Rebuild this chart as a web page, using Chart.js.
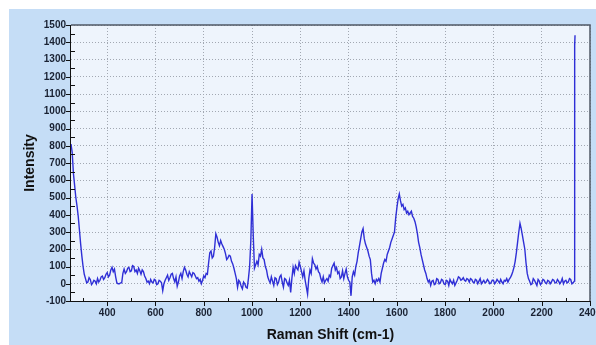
<!DOCTYPE html>
<html>
<head>
<meta charset="utf-8">
<title>Raman spectrum</title>
<script src="https://cdn.jsdelivr.net/npm/chart.js@4.4.0/dist/chart.umd.min.js"></script>
<style>
  html, body { margin: 0; padding: 0; background: #fff; }
  #wrap { width: 596px; height: 345px; }
</style>
</head>
<body>
<div id="wrap"><canvas id="ramanChart" width="596" height="345"></canvas></div>
<script>
const ramanShift = [
  250, 255, 260, 265, 270, 275, 280, 285, 290, 295, 300, 305, 310, 315, 320, 325, 330, 335, 340, 345,
  350, 355, 360, 365, 370, 375, 380, 385, 390, 395, 400, 405, 410, 415, 420, 425, 430, 435, 440, 445,
  450, 455, 460, 465, 470, 475, 480, 485, 490, 495, 500, 505, 510, 515, 520, 525, 530, 535, 540, 545,
  550, 555, 560, 565, 570, 575, 580, 585, 590, 595, 600, 605, 610, 615, 620, 625, 630, 635, 640, 645,
  650, 655, 660, 665, 670, 675, 680, 685, 690, 695, 700, 705, 710, 715, 720, 725, 730, 735, 740, 745,
  750, 755, 760, 765, 770, 775, 780, 785, 790, 795, 800, 805, 810, 815, 820, 825, 830, 835, 840, 845,
  850, 855, 860, 865, 870, 875, 880, 885, 890, 895, 900, 905, 910, 915, 920, 925, 930, 935, 940, 945,
  950, 955, 960, 965, 970, 975, 980, 985, 990, 995, 1000, 1005, 1010, 1015,
  1020, 1025, 1030, 1035, 1040, 1045, 1050, 1055, 1060, 1065, 1070, 1075, 1080, 1085, 1090, 1095, 1100, 1105,
  1110, 1115, 1120, 1125, 1130, 1135, 1140, 1145, 1150, 1155, 1160, 1165, 1170, 1175, 1180, 1185, 1190, 1195, 1200, 1205,
  1210, 1215, 1220, 1225, 1230, 1235, 1240, 1245, 1250, 1255, 1260, 1265, 1270, 1275, 1280, 1285, 1290, 1295, 1300, 1305,
  1310, 1315, 1320, 1325, 1330, 1335, 1340, 1345, 1350, 1355, 1360, 1365, 1370, 1375, 1380, 1385, 1390, 1395, 1400, 1405,
  1410, 1415, 1420, 1425, 1430, 1435, 1440, 1445, 1450, 1455, 1460, 1465, 1470, 1475, 1480, 1485, 1490, 1495, 1500, 1505,
  1510, 1515, 1520, 1525, 1530, 1535, 1540, 1545, 1550, 1555, 1560, 1565, 1570, 1575, 1580, 1585, 1590, 1595, 1600, 1605,
  1610, 1615, 1620, 1625, 1630, 1635, 1640, 1645, 1650, 1655, 1660, 1665, 1670, 1675, 1680, 1685, 1690, 1695, 1700, 1705,
  1710, 1715, 1720, 1725, 1730, 1735, 1740, 1745, 1750, 1755, 1760, 1765, 1770, 1775, 1780, 1785, 1790, 1795, 1800, 1805,
  1810, 1815, 1820, 1825, 1830, 1835, 1840, 1845, 1850, 1855, 1860, 1865, 1870, 1875, 1880, 1885, 1890, 1895, 1900, 1905,
  1910, 1915, 1920, 1925, 1930, 1935, 1940, 1945, 1950, 1955, 1960, 1965, 1970, 1975, 1980, 1985, 1990, 1995, 2000, 2005,
  2010, 2015, 2020, 2025, 2030, 2035, 2040, 2045, 2050, 2055, 2060, 2065, 2070, 2075, 2080, 2085, 2090, 2095, 2100, 2105,
  2110, 2115, 2120, 2125, 2130, 2135, 2140, 2145, 2150, 2155, 2160, 2165, 2170, 2175, 2180, 2185, 2190, 2195, 2200, 2205,
  2210, 2215, 2220, 2225, 2230, 2235, 2240, 2245, 2250, 2255, 2260, 2265, 2270, 2275, 2280, 2285, 2290, 2295, 2300, 2305,
  2310, 2315, 2320, 2325, 2330, 2335, 2336, 2337, 2338
];
const intensity = [
  810, 760, 640, 570, 500, 450, 390, 310, 230, 160, 100, 55, 30, 5, 10, 35, 25, -5, 5, 20,
  15, 0, 30, 10, 20, 40, 45, 25, 35, 55, 65, 40, 50, 80, 95, 70, 85, 40, 5, 0,
  0, 5, 5, 60, 85, 60, 70, 90, 95, 70, 75, 105, 100, 70, 80, 60, 90, 75, 55, 80,
  70, 45, 30, 10, 15, 0, 25, 10, 5, 25, 20, -5, 0, 20, 15, 5, -40, 0, 20, 35,
  50, 20, 35, 55, 60, 30, 10, 40, -15, 10, 45, 60, 30, 70, 95, 80, 55, 40, 70, 55,
  40, 65, 60, 45, 30, 35, 15, 25, 0, 20, 45, 35, 60, 55, 120, 180, 190, 150, 160, 210,
  290, 270, 240, 220, 250, 230, 215, 200, 175, 140, 150, 165, 160, 130, 115, 90, 60, 30, -20, 20,
  10, -15, -30, 10, 0, -20, -25, 30, 100, 250, 520, 280, 90, 110,
  130, 110, 170, 160, 200, 150, 140, 100, 80, 40, 20, 5, 40, 15, -10, 35, 30, -5,
  10, 40, 50, 10, -20, 30, 25, 5, -10, 20, -50, 30, 95, 60, 105, 90, 80, 125, 100, 70,
  40, 75, 20, -20, -60, 30, 80, 60, 145, 120, 110, 85, 100, 70, 60, 30, 10, 40, 5, 20,
  30, 15, 50, 40, 90, 105, 120, 80, 95, 60, 70, 30, 40, 75, 30, 60, 85, 40, 20, 10,
  -70, 40, 70, 50, 100, 130, 180, 220, 260, 300, 320, 260, 230, 210, 190, 160, 140, 60, 10, 20,
  0, 25, 15, 30, 10, 60, 90, 120, 140, 130, 170, 190, 210, 240, 260, 280, 300, 380, 440, 490,
  520, 480, 450, 460, 430, 440, 410, 420, 400, 410, 420, 390, 380, 360, 330, 290, 240, 210, 170, 140,
  110, 80, 60, 30, 10, 20, -10, 15, 20, -5, 0, 30, 25, 0, 5, 25, 20, 0, -5, 20,
  15, -10, 25, 10, 0, 20, -10, 5, 20, 40, 35, 20, 25, 35, 20, 15, 30, 25, 10, 30,
  25, 10, 5, 25, 20, 0, 15, 30, 0, 10, 20, 5, 10, 25, 15, 0, 5, 20, 20, 0,
  10, 25, 15, 5, 25, 10, 0, 20, 15, 30, 10, 25, 35, 50, 70, 95, 130, 180, 240, 300,
  350, 320, 280, 240, 200, 120, 60, 30, 15, -5, 0, 30, 20, 5, -10, 25, 15, -5, 5, 25,
  20, 5, 0, 20, 15, 0, 10, 25, 20, 5, 5, 25, 15, 0, 10, 30, 0, 15, 20, 5,
  10, 30, 25, 0, 5, 15, 1400, 1380, 1440
];
const xLabelValues = [400, 600, 800, 1000, 1200, 1400, 1600, 1800, 2000, 2200, 2400];
const yLabelValues = [-100, 0, 100, 200, 300, 400, 500, 600, 700, 800, 900, 1000, 1100, 1200, 1300, 1400, 1500];

const points = ramanShift.map((s, i) => ({ x: s, y: intensity[i] }));

const fontFamily = "Arial, 'Liberation Sans', sans-serif";
const tickFont = { family: fontFamily, size: 10, weight: 'bold' };
const tickColor = '#1a2233';
const gridGray = '#a2a8b2';

// panel and plot backgrounds
const backdrop = {
  id: 'backdrop',
  beforeDraw(chart) {
    const { ctx, chartArea: a } = chart;
    ctx.save();
    ctx.fillStyle = '#ffffff';
    ctx.fillRect(0, 0, chart.width, chart.height);
    ctx.fillStyle = '#c5ddf6';
    ctx.fillRect(9, 9, chart.width - 9, chart.height - 9);
    ctx.fillStyle = '#eef4fc';
    ctx.fillRect(a.left, a.top, a.right - a.left, a.bottom - a.top);
    ctx.restore();
  }
};

// axis lines, frame, tick marks and the clipped last x label
const frame = {
  id: 'frame',
  afterDraw(chart) {
    const { ctx, chartArea: a } = chart;
    const xs = chart.scales.x;
    const ys = chart.scales.y;
    ctx.save();
    ctx.lineWidth = 1.5;
    ctx.strokeStyle = '#505866';
    ctx.beginPath();
    ctx.moveTo(a.left, a.top);
    ctx.lineTo(a.right, a.top);
    ctx.lineTo(a.right, a.bottom);
    ctx.stroke();

    ctx.lineWidth = 1;
    ctx.strokeStyle = '#111111';
    ctx.beginPath();
    ctx.moveTo(a.left - 0.5, a.top);
    ctx.lineTo(a.left - 0.5, a.bottom + 0.5);
    ctx.lineTo(a.right, a.bottom + 0.5);
    yLabelValues.forEach(v => {
      const py = Math.round(ys.getPixelForValue(v)) + 0.5;
      ctx.moveTo(a.left - 5, py);
      ctx.lineTo(a.left, py);
    });
    for (let v = -50; v < 1500; v += 100) {
      const py = Math.round(ys.getPixelForValue(v)) + 0.5;
      ctx.moveTo(a.left, py);
      ctx.lineTo(a.left + 4, py);
    }
    xLabelValues.forEach(v => {
      const px = Math.round(xs.getPixelForValue(v)) + 0.5;
      ctx.moveTo(px, a.bottom);
      ctx.lineTo(px, a.bottom + 5);
    });
    for (let v = 300; v < 2400; v += 200) {
      const px = Math.round(xs.getPixelForValue(v)) + 0.5;
      ctx.moveTo(px, a.bottom + 1);
      ctx.lineTo(px, a.bottom - 3);
    }
    ctx.stroke();

    // last label sits on the canvas edge, so it is drawn here and cut off
    const last = xLabelValues[xLabelValues.length - 1];
    ctx.fillStyle = tickColor;
    ctx.font = 'bold 10px ' + fontFamily;
    ctx.textAlign = 'center';
    ctx.textBaseline = 'middle';
    ctx.fillText(String(last), xs.getPixelForValue(last), a.bottom + 12);
    ctx.restore();
  }
};

new Chart(document.getElementById('ramanChart'), {
  type: 'line',
  data: {
    datasets: [{
      data: points,
      borderColor: '#2f2fd6',
      borderWidth: 1.4,
      pointRadius: 0,
      tension: 0,
      fill: false
    }]
  },
  options: {
    responsive: false,
    animation: false,
    events: [],
    layout: { autoPadding: false, padding: { left: 0, top: 25, right: 5, bottom: 0 } },
    plugins: { legend: { display: false }, tooltip: { enabled: false } },
    scales: {
      x: {
        type: 'linear',
        min: 250,
        max: 2400,
        afterFit(scale) { scale.height = 44; },
        afterBuildTicks(scale) { scale.ticks = xLabelValues.map(v => ({ value: v })); },
        ticks: {
          autoSkip: false,
          maxRotation: 0,
          padding: 6,
          color: tickColor,
          font: tickFont,
          callback: v => (v === 2400 ? '' : String(v))
        },
        grid: { color: gridGray, lineWidth: 1, drawTicks: false },
        border: { display: false, dash: [1, 2] },
        title: {
          display: true,
          text: 'Raman Shift (cm-1)',
          color: '#111111',
          padding: { top: 0, bottom: 1 },
          font: { family: fontFamily, size: 14, weight: 'bold' }
        }
      },
      y: {
        min: -100,
        max: 1500,
        afterFit(scale) { scale.width = 71; },
        afterBuildTicks(scale) { scale.ticks = yLabelValues.map(v => ({ value: v })); },
        ticks: {
          autoSkip: false,
          padding: 5,
          color: tickColor,
          font: tickFont,
          callback: v => String(v)
        },
        grid: { color: gridGray, lineWidth: 1, drawTicks: false },
        border: { display: false, dash: [1, 2] },
        title: {
          display: true,
          text: 'Intensity',
          color: '#111111',
          padding: { top: 22, bottom: 0 },
          font: { family: fontFamily, size: 14, weight: 'bold' }
        }
      }
    }
  },
  plugins: [backdrop, frame]
});
</script>
</body>
</html>
